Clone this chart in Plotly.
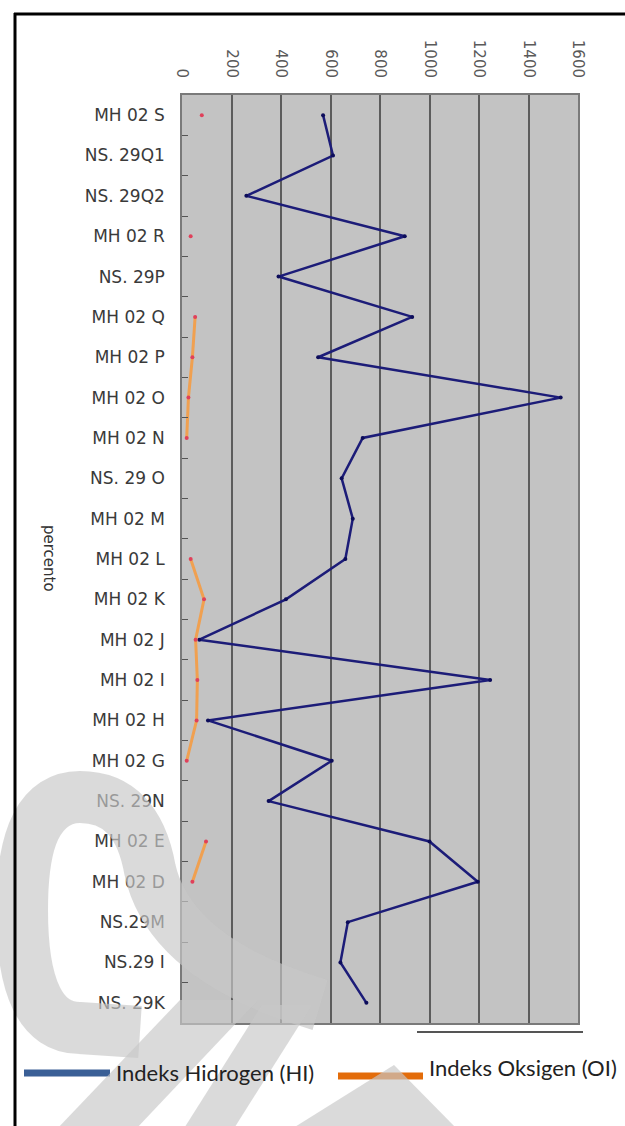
import plotly.graph_objects as go

# Samples listed top to bottom
samples = [
    "MH 02 S", "NS. 29Q1", "NS. 29Q2", "MH 02 R", "NS. 29P", "MH 02 Q",
    "MH 02 P", "MH 02 O", "MH 02 N", "NS. 29 O", "MH 02 M", "MH 02 L",
    "MH 02 K", "MH 02 J", "MH 02 I", "MH 02 H", "MH 02 G", "NS. 29N",
    "MH 02 E", "MH 02 D", "NS.29M", "NS.29 I", "NS. 29K",
]

# Hydrogen index (HI)
hi_values = [
    570, 610, 260, 900, 390, 930,
    550, 1530, 730, 645, 690, 660,
    420, 70, 1245, 105, 605, 350,
    1000, 1195, 670, 640, 745,
]

# Oxygen index (OI); None where the sample has no value
oi_values = [
    80, None, None, 35, None, 53,
    42, 26, 19, None, None, 35,
    89, 55, 62, 59, 19, None,
    97, 42, None, None, None,
]

x_ticks = [0, 200, 400, 600, 800, 1000, 1200, 1400, 1600]

W, H = 625, 1126
L, R, T, B = 182, 578, 95, 1023


def px(x):
    return (x - L) / (R - L)


def py(y):
    return (B - y) / (B - T)


def path(cmds):
    out = []
    for c in cmds:
        if isinstance(c, str):
            out.append(c)
        else:
            out.append(f"{px(c[0]):.4f},{py(c[1]):.4f}")
    return " ".join(out)


fig = go.Figure()

fig.add_trace(go.Scatter(
    x=hi_values, y=samples, mode="lines+markers",
    line=dict(color="#1c1c78", width=2.5),
    marker=dict(color="#0c0c5a", size=4),
    showlegend=False, hoverinfo="x+y",
))
fig.add_trace(go.Scatter(
    x=oi_values, y=samples, mode="lines+markers",
    line=dict(color="#f0a050", width=3),
    marker=dict(color="#e0405a", size=4),
    connectgaps=False, showlegend=False, hoverinfo="x+y",
))

shapes = []

# short rule under the plot
shapes.append(dict(type="line", xref="paper", yref="paper",
                   x0=px(417), x1=px(583), y0=py(1032), y1=py(1032),
                   line=dict(color="#555555", width=2)))

# legend keys
shapes.append(dict(type="line", xref="paper", yref="paper",
                   x0=px(24), x1=px(110), y0=py(1073), y1=py(1073),
                   line=dict(color="#3a5f96", width=7)))
shapes.append(dict(type="line", xref="paper", yref="paper",
                   x0=px(338), x1=px(423), y0=py(1076), y1=py(1076),
                   line=dict(color="#e36c0a", width=7)))

# background logo mark
mark = "rgba(200,200,200,0.67)"
shapes.append(dict(type="path", xref="paper", yref="paper", layer="above",
                   path=path(["M", (320, 1005), "Q", (170, 960), (150, 870),
                              "Q", (137, 797), (80, 797),
                              "Q", (22, 797), (22, 910),
                              "Q", (22, 1028), (80, 1028), "L", (140, 1032)]),
                   line=dict(color=mark, width=52)))
shapes.append(dict(type="path", xref="paper", yref="paper", layer="above",
                   path=path(["M", (180, 1000), "L", (258, 1000), "L", (135, 1130),
                              "L", (56, 1130), "Z"]),
                   fillcolor=mark, line=dict(width=0)))
shapes.append(dict(type="path", xref="paper", yref="paper", layer="above",
                   path=path(["M", (262, 1005), "L", (312, 1005), "L", (233, 1130),
                              "L", (183, 1130), "Z"]),
                   fillcolor=mark, line=dict(width=0)))
shapes.append(dict(type="path", xref="paper", yref="paper", layer="above",
                   path=path(["M", (394, 1065), "L", (458, 1130), "L", (290, 1130), "Z"]),
                   fillcolor=mark, line=dict(width=0)))

# outer frame (left and top rules)
shapes.append(dict(type="line", xref="paper", yref="paper", layer="above",
                   x0=px(15), x1=px(15), y0=py(13), y1=py(1130),
                   line=dict(color="#000000", width=3)))
shapes.append(dict(type="line", xref="paper", yref="paper", layer="above",
                   x0=px(14), x1=px(630), y0=py(14), y1=py(14),
                   line=dict(color="#000000", width=3)))

annotations = [
    dict(text="percento", xref="paper", yref="paper", x=px(38), y=py(558),
         showarrow=False, textangle=90,
         font=dict(family="DejaVu Sans", size=15, color="#333333")),
    dict(text="Indeks Hidrogen (HI)", xref="paper", yref="paper",
         x=px(114), y=py(1072), xanchor="left", yanchor="middle", showarrow=False,
         font=dict(family="Lato", size=22, color="#222222")),
    dict(text="Indeks Oksigen (OI)", xref="paper", yref="paper",
         x=px(427), y=py(1067), xanchor="left", yanchor="middle", showarrow=False,
         font=dict(family="Lato", size=22, color="#222222")),
]

fig.update_layout(
    width=W, height=H,
    margin=dict(l=L, r=W - R, t=T, b=H - B),
    paper_bgcolor="#ffffff",
    plot_bgcolor="#c3c3c3",
    showlegend=False,
    shapes=shapes,
    annotations=annotations,
    xaxis=dict(
        side="top", range=[0, 1600], tickvals=x_ticks,
        tickangle=90, ticklabelstandoff=10,
        tickfont=dict(family="DejaVu Sans", size=15, color="#5a5a5a"),
        showgrid=True, gridcolor="#5c5c5c", gridwidth=2,
        zeroline=False, showline=True, linecolor="#7a7a7a", linewidth=1.5,
        mirror=True, ticks="",
    ),
    yaxis=dict(
        type="category", categoryorder="array", categoryarray=samples,
        range=[len(samples) - 0.5, -0.5],
        ticks="inside", ticklen=6, tickcolor="#555555", tickson="boundaries",
        tickfont=dict(family="DejaVu Sans", size=17, color="#3a3a3a"),
        ticklabelstandoff=12,
        showgrid=False, zeroline=False, showline=True, linecolor="#7a7a7a",
        linewidth=1.5, mirror=True,
    ),
)

fig.write_html("out.html")
